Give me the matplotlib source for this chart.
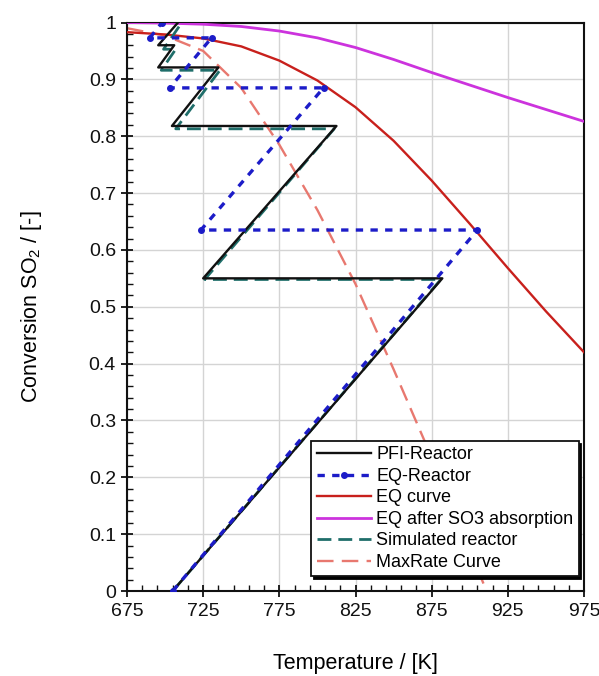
import numpy as np
import matplotlib
matplotlib.use("Agg")
import matplotlib.pyplot as plt
from matplotlib.ticker import FixedLocator, FuncFormatter

plt.rcParams['font.family'] = ['Liberation Sans', 'DejaVu Sans']
plt.rcParams['mathtext.default'] = 'regular'

# PFI reactor (adiabatic beds + intercooling)
pfi_T = [705, 882, 725, 812.5, 704.5, 735, 695.5, 706, 695.5, 708.5]
pfi_X = [0, 0.55, 0.55, 0.818, 0.818, 0.921, 0.921, 0.96, 0.96, 1.0]

# EQ reactor
eqr_T = [705, 905, 723.5, 804, 703, 730.5, 690, 698]
eqr_X = [0, 0.635, 0.635, 0.885, 0.885, 0.973, 0.973, 1.0]

# equilibrium curve
eq_T = [675, 700, 725, 750, 775, 800, 825, 850, 875, 900, 925, 950, 975]
eq_X = [0.983, 0.979, 0.972, 0.958, 0.933, 0.898, 0.851, 0.792, 0.722, 0.646, 0.568,
        0.492, 0.420]

# equilibrium after SO3 absorption
abs_T = [675, 700, 725, 750, 775, 800, 825, 850, 875, 900, 925, 950, 975]
abs_X = [1.0, 0.999, 0.997, 0.993, 0.985, 0.973, 0.956, 0.935, 0.912, 0.890, 0.868,
         0.847, 0.826]

# simulated reactor
sim_T = [705, 881, 726, 811, 707, 736, 697.5, 707, 699, 711]
sim_X = [0, 0.548, 0.548, 0.813, 0.813, 0.916, 0.916, 0.953, 0.953, 1.0]

# max rate curve
mr_T = [675, 700, 725, 750, 775, 800, 825, 850, 875, 900, 911]
mr_X = [0.99, 0.977, 0.95, 0.885, 0.785, 0.67, 0.54, 0.39, 0.235, 0.072, 0.0]

fig = plt.figure(figsize=(5.99, 6.76), dpi=100)
ax = fig.add_axes([0.212, 0.1257, 0.763, 0.841])

ax.plot(pfi_T, pfi_X, color='#111111', lw=1.7, label='PFI-Reactor', zorder=5)
ax.plot(eqr_T, eqr_X, color='#1c1cc8', lw=2.4, dashes=(2.2, 2.2), marker='o', ms=4,
        label='EQ-Reactor', zorder=6)
ax.plot(eq_T, eq_X, color='#c8201c', lw=1.7, label='EQ curve', zorder=3)
ax.plot(abs_T, abs_X, color='#cc33dd', lw=2.0, label='EQ after SO3 absorption', zorder=3)
ax.plot(sim_T, sim_X, color='#1f6e6a', lw=2.0, dashes=(5, 2.5), label='Simulated reactor', zorder=4)
ax.plot(mr_T, mr_X, color='#e8786f', lw=1.7, dashes=(7, 3.5), label='MaxRate Curve', zorder=2)

ax.set_xlim(675, 975)
ax.set_ylim(0, 1)

ax.xaxis.set_major_locator(FixedLocator(np.arange(675, 976, 50)))
ax.xaxis.set_minor_locator(FixedLocator(np.arange(675, 976, 10)))
ax.yaxis.set_major_locator(FixedLocator(np.arange(0, 1.01, 0.1)))
ax.yaxis.set_minor_locator(FixedLocator(np.arange(0, 1.001, 0.02)))
ax.yaxis.set_major_formatter(FuncFormatter(lambda v, p: '%g' % round(v, 2)))

ax.tick_params(which='major', direction='inout', length=9, width=1.3, labelsize=14,
               colors='#111111')
ax.tick_params(which='minor', direction='in', length=4.5, width=1.0, colors='#111111')
ax.tick_params(axis='x', pad=4)

for s in ax.spines.values():
    s.set_linewidth(1.5)
    s.set_color('#111111')

ax.grid(True, which='major', color='#d4d4d4', lw=1.0, zorder=0)
ax.set_axisbelow(True)

ax.set_xlabel('Temperature / [K]', fontsize=15.5, labelpad=24)
ax.set_ylabel('Conversion SO$_2$ / [-]', fontsize=15.5, labelpad=32)

leg = ax.legend(loc='lower right', bbox_to_anchor=(1.008, 0.01), fontsize=13,
                frameon=True, fancybox=False, shadow={'color': 'black', 'alpha': 1},
                edgecolor='#111111', framealpha=1, handlelength=3.0, handletextpad=0.3,
                labelspacing=0.25, borderpad=0.3, numpoints=1)
leg.get_frame().set_linewidth(1.3)

fig.savefig('out.png', dpi=100)
